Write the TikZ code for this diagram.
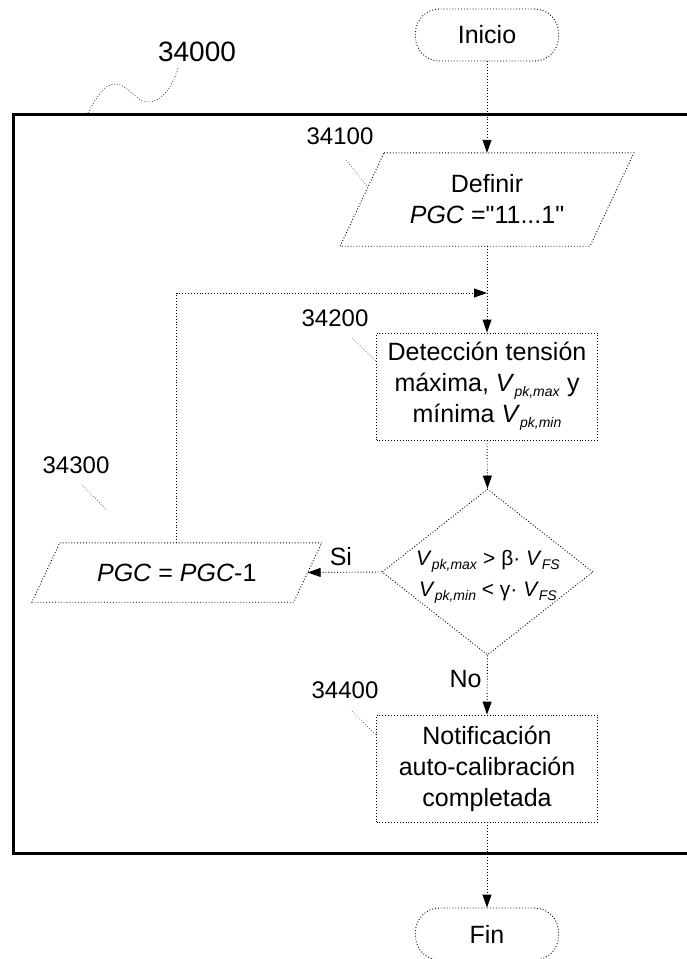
\documentclass[tikz,border=0pt]{standalone}
\usepackage{fontspec}
\setmainfont{Liberation Sans}[Ligatures=TeXOff]
\usetikzlibrary{arrows.meta,calc,shapes.geometric}
\newcommand{\subsm}[1]{\raisebox{-0.35ex}{\fontsize{14}{14}\selectfont\textit{#1}}}
\begin{document}
\begin{tikzpicture}[x=1pt,y=-1pt,
 font=\fontsize{25}{31}\selectfont,
 dl/.style={dotted, line width=0.9pt},
 flow/.style={dl, -{Triangle[length=13pt,width=9pt]}},
 lead/.style={dotted, line width=0.7pt, black!70},
 term/.style={draw, dl, rounded corners=24pt, minimum width=143pt, minimum height=52pt, inner sep=0pt},
 proc/.style={draw, dl, minimum width=221pt, minimum height=107pt, align=center, inner sep=2pt},
 lbl/.style={font=\fontsize{24}{26}\selectfont}]
\useasboundingbox (0,0) rectangle (687,959);

% outer frame
\draw[line width=3pt] (13,114) rectangle (700,853);
\node[font=\fontsize{28}{30}\selectfont] (l34000) at (197,52) {34000};
\draw[lead, black] (88,113) .. controls (96,98) and (104,84) .. (115,84)
  .. controls (128,84) and (136,102) .. (148,102)
  .. controls (164,102) and (174,82) .. (178,68);

% nodes
\node[term] (start) at (487,35) {Inicio};
\node[minimum width=249.5pt, minimum height=93pt, align=center, inner sep=0pt] (def) at (487,199.5) {Definir\\\textit{PGC} ="11...1"};
\draw[dl] ($(def.north west)+(22,0)$) -- ($(def.north east)+(22,0)$) -- ($(def.south east)+(-22,0)$) -- ($(def.south west)+(-22,0)$) -- cycle;

\node[proc] (det) at (487,386.5) {Detección tensión\\máxima, \textit{V}\subsm{pk,max} y\\mínima \textit{V}\subsm{pk,min}};

\node[diamond, draw, dl, minimum width=211pt, minimum height=166pt, inner sep=0pt] (dec) at (487.5,572) {};
\node[font=\fontsize{21}{31}\selectfont, align=center] (dectext) at (488,577) {\textit{V}\subsm{pk,max} > β· \textit{V}\subsm{FS}\\\textit{V}\subsm{pk,min} < γ· \textit{V}\subsm{FS}};

\node[minimum width=261.5pt, minimum height=59pt, inner sep=0pt] (pg) at (176.75,572.5) {\textit{PGC} = \textit{PGC}-1};
\draw[dl] ($(pg.north west)+(14,0)$) -- ($(pg.north east)+(14,0)$) -- ($(pg.south east)+(-14,0)$) -- ($(pg.south west)+(-14,0)$) -- cycle;

\node[proc] (note) at (487,768.5) {Notificación\\auto-calibración\\completada};
\node[term] (fin) at (487,934) {Fin};

\coordinate (join) at (487,293);

% connectors
\draw[flow] (start.south) -- (def.north);
\draw[dl] (def.south) -- (join);
\draw[flow] (join) -- (det.north);
\draw[flow] (pg.north) |- (join);
\draw[flow] (det.south) -- (dec.north);
\draw[flow] (dec.west) -- node[above=3pt, pos=0.55] (si) {Si} (pg.east);
\draw[flow] (dec.south) -- node[left=2pt, pos=0.4] (no) {No} (note.north);
\draw[flow] (note.south) -- (fin.north);

% reference labels
\node[lbl] (l34100) at (340,136) {34100};
\coordinate (t34100) at (368,187);
\draw[lead] (346,160) -- (t34100);
\node[lbl] (l34200) at (335,318) {34200};
\coordinate (t34200) at (377,362);
\draw[lead] (352,338) -- (t34200);
\node[lbl] (l34300) at (76,465) {34300};
\coordinate (t34300) at (107,510);
\draw[lead] (82,485) -- (t34300);
\node[lbl] (l34400) at (345,690) {34400};
\coordinate (t34400) at (377,736);
\draw[lead] (352,711) -- (t34400);
\end{tikzpicture}
\end{document}
